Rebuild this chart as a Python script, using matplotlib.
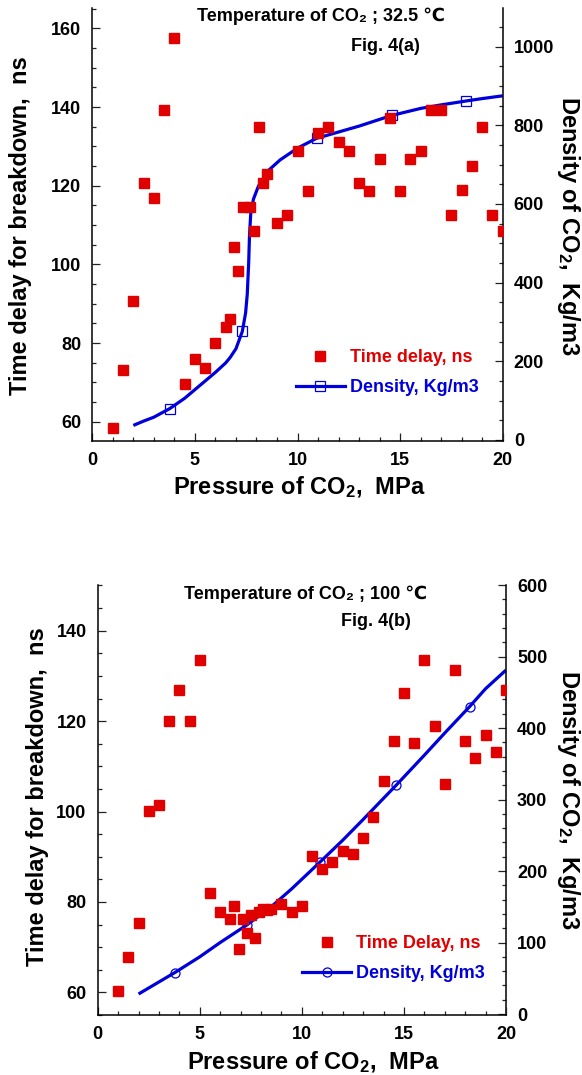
import matplotlib
matplotlib.use('Agg')
import matplotlib.pyplot as plt
from matplotlib.ticker import MultipleLocator
from matplotlib.lines import Line2D

plt.rcParams['font.family'] = ['Liberation Sans', 'DejaVu Sans']
plt.rcParams['font.weight'] = 'bold'
plt.rcParams['mathtext.fontset'] = 'custom'
plt.rcParams['mathtext.rm'] = 'Liberation Sans:bold'
plt.rcParams['mathtext.it'] = 'Liberation Sans:bold'
plt.rcParams['mathtext.bf'] = 'Liberation Sans:bold'

# ---------------- data: Fig. 4(a), 32.5 C ----------------
pressure_a = [1.0, 1.5, 2.0, 2.5, 3.0, 3.5, 4.0, 4.5, 5.0, 5.5, 6.0, 6.5, 6.7, 6.9,
              7.1, 7.33, 7.67, 7.9, 8.1, 8.32, 8.52, 9.0, 9.5, 10.0, 10.5, 11.0,
              11.5, 12.0, 12.5, 13.0, 13.5, 14.0, 14.5, 15.0, 15.5, 16.0, 16.5,
              17.0, 17.5, 18.0, 18.5, 19.0, 19.5, 20.0]
delay_a = [58.5, 73.1, 90.6, 120.6, 116.9, 139.2, 157.5, 69.6, 75.9, 73.6, 80.0,
           84.0, 86.2, 104.4, 98.3, 114.7, 114.7, 108.6, 135.0, 120.8, 122.9,
           110.6, 112.6, 128.9, 118.7, 133.3, 135.0, 131.1, 128.9, 120.6, 118.6,
           126.9, 137.2, 118.6, 126.9, 128.9, 139.2, 139.2, 112.6, 118.8, 125.0,
           135.0, 112.6, 108.6]
dens_p_a = [2.0, 2.5, 3.0, 3.78, 4.5, 5.0, 5.5, 6.0, 6.5, 6.72, 7.0, 7.31, 7.47,
            7.55, 7.62, 7.66, 7.72, 7.85, 8.1, 8.6, 9.15, 10.0, 10.93, 12.0, 13.0,
            14.58, 16.0, 17.0, 18.23, 19.0, 20.0]
dens_a = [37, 48, 58, 80, 106, 128, 150, 172, 196, 210, 232, 276, 323, 370, 450,
          520, 575, 612, 646, 686, 712, 742, 767, 783, 798, 825, 843, 852, 862,
          868, 875]
dens_marks_a = [3, 11, 22, 25, 28]

# ---------------- data: Fig. 4(b), 100 C ----------------
pressure_b = [1.0, 1.5, 2.0, 2.5, 3.0, 3.5, 4.0, 4.5, 5.0, 5.5, 6.0, 6.5, 6.7, 6.9,
              7.1, 7.3, 7.5, 7.7, 7.9, 8.1, 8.3, 8.5, 9.0, 9.5, 10.0, 10.5, 11.0,
              11.5, 12.0, 12.5, 13.0, 13.5, 14.0, 14.5, 15.0, 15.5, 16.0, 16.5,
              17.0, 17.5, 18.0, 18.5, 19.0, 19.5, 20.0]
delay_b = [60.3, 67.8, 75.4, 100.1, 101.4, 120.0, 126.8, 120.0, 133.6, 81.9, 77.8,
           76.2, 79.2, 69.6, 76.2, 73.1, 77.1, 72.1, 77.8, 78.5, 78.2, 78.5, 79.6,
           77.8, 79.1, 90.1, 87.2, 88.75, 91.25, 90.6, 94.1, 98.7, 106.8, 115.7,
           126.3, 115.2, 133.6, 119.0, 106.0, 131.3, 115.7, 111.9, 117.0, 113.2,
           126.8]
dens_p_b = [2.0, 3.78, 5.0, 6.0, 7.33, 8.5, 9.5, 10.87, 12.0, 13.0, 14.62, 16.0,
            17.0, 18.22, 19.0, 20.0]
dens_b = [28, 58, 80, 100, 125, 150, 175, 212, 243, 272, 320, 362, 393, 430, 455, 481]
dens_marks_b = [1, 4, 7, 10, 13]

RED = '#e00000'
BLUE = '#0000dd'

fig = plt.figure(figsize=(5.82, 10.75), dpi=100)


def panel(rect, p, t, dp, dv, marks, dmarker, ylim_l, ylim_r, lmaj, lmin,
          rmaj, rmin, title, title_xy, figlab, figlab_xy, labels, leg_xy,
          xlab_xy, ylab_xy, rlab_xy):
    ax = fig.add_axes(rect)
    ax2 = ax.twinx()
    ax.set_zorder(ax2.get_zorder() + 1)
    ax.patch.set_visible(False)

    ax2.plot(dp, dv, color=BLUE, lw=2.3, marker=dmarker, ms=6.5, mfc='none',
             mec=BLUE, mew=0.9, markevery=marks, solid_capstyle='butt')
    ax.plot(p, t, ls='none', marker='s', ms=6.6, color=RED, mec=RED)

    ax.set_xlim(0, 20)
    ax.set_ylim(*ylim_l)
    ax2.set_ylim(*ylim_r)
    ax.xaxis.set_major_locator(MultipleLocator(5))
    ax.xaxis.set_minor_locator(MultipleLocator(1))
    ax.yaxis.set_major_locator(MultipleLocator(lmaj))
    ax.yaxis.set_minor_locator(MultipleLocator(lmin))
    ax2.yaxis.set_major_locator(MultipleLocator(rmaj))
    ax2.yaxis.set_minor_locator(MultipleLocator(rmin))

    for a in (ax, ax2):
        a.tick_params(which='both', direction='in', labelsize=13, pad=8,
                      width=0.9, color='#222222')
        a.tick_params(which='major', length=6)
        a.tick_params(which='minor', length=3)
        for s in a.spines.values():
            s.set_linewidth(1.1)
        a.spines['top'].set_visible(False)
    ax.tick_params(which='both', top=False, right=False)
    ax.spines['right'].set_visible(False)
    ax2.spines['left'].set_visible(False)
    ax2.spines['bottom'].set_visible(False)
    ax2.tick_params(which='both', left=False, bottom=False, top=False)
    for lab in ax.get_xticklabels() + ax.get_yticklabels() + ax2.get_yticklabels():
        lab.set_fontweight('bold')

    ax.set_xlabel('Pressure of CO$_2$,  MPa', fontsize=17, fontweight='bold')
    ax.xaxis.set_label_coords(*xlab_xy)
    ax.xaxis.label.set_va('center')
    ax.set_ylabel('Time delay for breakdown,  ns', fontsize=17, fontweight='bold')
    ax.yaxis.set_label_coords(*ylab_xy)
    ax.yaxis.label.set_rotation_mode('default')
    ax.yaxis.label.set_va('center')
    ax.yaxis.label.set_ha('center')
    ax2.set_ylabel('Density of CO$_2$,  Kg/m3', fontsize=17, fontweight='bold',
                   rotation=270)
    ax2.yaxis.set_label_coords(*rlab_xy)
    ax2.yaxis.label.set_rotation_mode('default')
    ax2.yaxis.label.set_va('center')
    ax2.yaxis.label.set_ha('center')

    ax.text(*title_xy, title, transform=ax.transAxes, ha='center', va='center',
            fontsize=13, fontweight='bold')
    ax.text(*figlab_xy, figlab, transform=ax.transAxes, ha='center', va='center',
            fontsize=13, fontweight='bold')

    h1 = Line2D([], [], ls='none', marker='s', ms=7, color=RED)
    h2 = Line2D([], [], color=BLUE, lw=2.3, marker=dmarker, ms=6.5, mfc='none',
                mec=BLUE, mew=0.9)
    leg = ax.legend([h1, h2], labels, loc='center left', bbox_to_anchor=leg_xy,
                    frameon=False, borderpad=0, borderaxespad=0,
                    handlelength=2.7, handletextpad=0.3, labelspacing=0.7,
                    prop=dict(size=13, weight='bold'))
    for txt, c in zip(leg.get_texts(), [RED, BLUE]):
        txt.set_color(c)
    return ax, ax2


panel([0.1586, 0.5898, 0.7052, 0.4028], pressure_a, delay_a, dens_p_a, dens_a,
      dens_marks_a, 's', (55.1, 165.2), (-2.5, 1098.4), 20, 5, 200, 50,
      'Temperature of CO\u2082 ; 32.5 \u2103', (0.556, 0.9815),
      'Fig. 4(a)', (0.713, 0.91),
      ['Time delay, ns', 'Density, Kg/m3'], (0.496, 0.158),
      (0.504, -0.106), (-0.175, 0.497), (1.16, 0.497))

panel([0.1679, 0.0558, 0.7015, 0.4], pressure_b, delay_b, dens_p_b, dens_b,
      dens_marks_b, 'o', (55.0, 150.1), (-1.4, 600), 20, 5, 100, 20,
      'Temperature of CO\u2082 ; 100 \u2103', (0.510, 0.979),
      'Fig. 4(b)', (0.682, 0.914),
      ['Time Delay, ns', 'Density, Kg/m3'], (0.501, 0.131),
      (0.527, -0.109), (-0.147, 0.508), (1.153, 0.5))

fig.savefig('out.png', dpi=100)
